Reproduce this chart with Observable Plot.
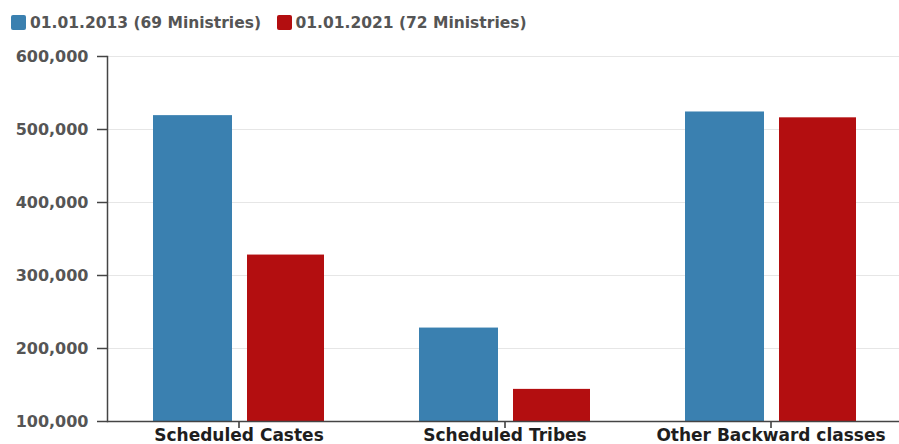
<!DOCTYPE html>
<html>
<head>
<meta charset="utf-8">
<script src="https://cdn.jsdelivr.net/npm/d3@7"></script>
<script src="https://cdn.jsdelivr.net/npm/@observablehq/plot@0.6"></script>
<style>
  html, body { margin: 0; padding: 0; background: #fff; }
  #chart { width: 899px; height: 444px; font-family: "DejaVu Sans", sans-serif; overflow: hidden; }
  #legend { height: 36px; box-sizing: border-box; padding: 6px 0 0 11px; }
  #legend div, #legend span { font: bold 15.5px "DejaVu Sans", sans-serif; color: #555; }
  #legend svg { margin-right: 4px !important; }
  #legend svg rect { rx: 2px; ry: 2px; }
  #plot svg { display: block; }
</style>
</head>
<body>
<div id="chart">
  <div id="legend"></div>
  <div id="plot"></div>
</div>
<script>
const categories = ["Scheduled Castes", "Scheduled Tribes", "Other Backward classes"];
const series = ["01.01.2013 (69 Ministries)", "01.01.2021 (72 Ministries)"];
const values2013 = [519000, 228000, 524000];
const values2021 = [328000, 144000, 516000];
const colors = ["#3a80b0", "#b30e10"];
const yTicks = [100000, 200000, 300000, 400000, 500000, 600000];

const rows2013 = categories.map((c, i) => ({category: c, series: series[0], value: values2013[i]}));
const rows2021 = categories.map((c, i) => ({category: c, series: series[1], value: values2021[i]}));

const legend = Plot.legend({
  color: {type: "ordinal", domain: series, range: colors},
  swatchSize: 15
});
document.getElementById("legend").append(legend);

const plot = Plot.plot({
  width: 899,
  height: 408,
  marginLeft: 107,
  marginRight: 0,
  marginTop: 20,
  marginBottom: 23,
  style: {fontFamily: "DejaVu Sans, sans-serif", color: "#444", background: "#fff", overflow: "visible"},
  x: {domain: categories, paddingInner: 0.357, paddingOuter: 0.167, align: 0.52, label: null},
  y: {domain: [100000, 600000], ticks: yTicks, tickFormat: d3.format(","), label: null},
  color: {domain: series, range: colors},
  marks: [
    Plot.gridY(yTicks, {stroke: "#e6e6e6", strokeOpacity: 1}),
    Plot.barY(rows2013, {x: "category", y: "value", fill: "series", insetRight: 92, clip: true}),
    Plot.barY(rows2021, {x: "category", y: "value", fill: "series", insetLeft: 94, clip: true}),
    Plot.axisY({ticks: yTicks, tickFormat: d3.format(","), tickSize: 10, tickPadding: 9, fontSize: 16, fontWeight: "bold", fill: "#555", stroke: "#444", strokeWidth: 1.5, label: null}),
    Plot.axisX({tickSize: 7, tickPadding: 0, fontSize: 17, fontWeight: "bold", fill: "#1e1e1e", stroke: "#333", strokeWidth: 1.5, label: null}),
    Plot.frame({anchor: "left", stroke: "#444", strokeWidth: 1.5}),
    Plot.ruleY([100000], {stroke: "#444", strokeWidth: 1.5})
  ]
});
document.getElementById("plot").append(plot);
</script>
</body>
</html>
